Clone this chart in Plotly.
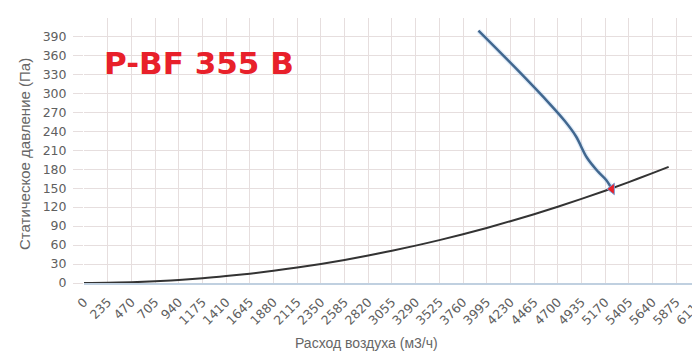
import plotly.graph_objects as go

# X tick labels (air flow, m3/h)
x_ticks = [0, 235, 470, 705, 940, 1175, 1410, 1645, 1880, 2115, 2350, 2585, 2820,
           3055, 3290, 3525, 3760, 3995, 4230, 4465, 4700, 4935, 5170, 5405, 5640,
           5875, 6110]
y_ticks = [0, 30, 60, 90, 120, 150, 180, 210, 240, 270, 300, 330, 360, 390]

# System (network) curve
sys_q = [0, 235, 470, 705, 940, 1175, 1410, 1645, 1880, 2115, 2350, 2585, 2820,
         3055, 3290, 3525, 3760, 3995, 4230, 4465, 4700, 4935, 5170, 5405, 5640, 5800]
sys_p = [0, 0.3, 1.2, 2.7, 4.8, 7.5, 10.9, 14.8, 19.3, 24.4, 30.2, 36.5, 43.4,
         51.0, 59.1, 67.8, 77.2, 87.1, 97.7, 108.8, 120.6, 133.0, 145.9, 159.5, 173.7, 183.6]

# Fan curve
fan_q = [3913, 4293, 4624, 4770, 4880, 4990, 5100, 5180, 5237]
fan_p = [399, 338, 282.5, 256, 232, 198, 176, 163, 148.7]

# Working point
work_q = [5237]
work_p = [148.7]

title_text = "P-BF 355 B"
x_title = "Расход воздуха (м3/ч)"
y_title = "Статическое давление (Па)"

fig = go.Figure()
fig.add_trace(go.Scatter(x=sys_q, y=sys_p, mode="lines",
                         line=dict(color="#333333", width=2, shape="spline"),
                         hoverinfo="skip", showlegend=False))
fig.add_trace(go.Scatter(x=fan_q, y=fan_p, mode="lines",
                         line=dict(color="rgba(140,185,230,0.25)", width=5, shape="spline"),
                         hoverinfo="skip", showlegend=False))
fig.add_trace(go.Scatter(x=fan_q, y=fan_p, mode="lines",
                         line=dict(color="#41678f", width=2.5, shape="spline"),
                         showlegend=False))
fig.add_trace(go.Scatter(x=work_q, y=work_p, mode="markers",
                         marker=dict(symbol="triangle-left", size=10, color="#e8202a",
                                     line=dict(color="#7fa3d6", width=1)),
                         showlegend=False))

fig.add_annotation(text=title_text, xref="paper", yref="paper",
                   x=0.029, y=0.83, xanchor="left", yanchor="middle",
                   showarrow=False,
                   font=dict(family="DejaVu Sans", size=31, color="#e8202a", weight="bold"))
fig.add_annotation(text=x_title, xref="paper", yref="paper",
                   x=(366 - 84) / 616, y=(283 - 343) / 265, xanchor="center", yanchor="middle",
                   showarrow=False,
                   font=dict(family="Liberation Sans", size=14, color="#666666"))
fig.add_annotation(text=y_title, xref="paper", yref="paper", textangle=-90,
                   x=(24 - 84) / 616, y=(283 - 154) / 265, xanchor="center", yanchor="middle",
                   showarrow=False,
                   font=dict(family="Liberation Sans", size=15, color="#666666"))

grid = "#e6dede"
# page body has an 8px margin: figure is shifted by (8, 8)
fig.update_layout(
    width=692, height=346,
    margin=dict(l=76, r=0, t=10, b=71, autoexpand=False),
    paper_bgcolor="white", plot_bgcolor="white",
    font=dict(family="DejaVu Sans", color="#606060"),
)
fig.update_xaxes(
    range=[0, 6111], tickmode="array", tickvals=x_ticks,
    ticktext=[str(v) for v in x_ticks], tickangle=-45,
    tickfont=dict(family="DejaVu Sans", size=12.5, color="#606060"),
    ticklabelstandoff=5, ticklabeloverflow="allow",
    showgrid=True, gridcolor=grid, gridwidth=1,
    showline=True, linecolor="#c0d0e0", linewidth=2,
    ticks="", zeroline=False, automargin=False,
)
fig.update_yaxes(
    range=[0, 419], tickmode="array", tickvals=y_ticks,
    tickfont=dict(family="DejaVu Sans", size=12.5, color="#606060"),
    showgrid=True, gridcolor=grid, gridwidth=1,
    ticks="outside", ticklen=10, tickcolor=grid, ticklabelstandoff=4,
    zeroline=False, showline=False, automargin=False,
)

fig.write_html("out.html")
